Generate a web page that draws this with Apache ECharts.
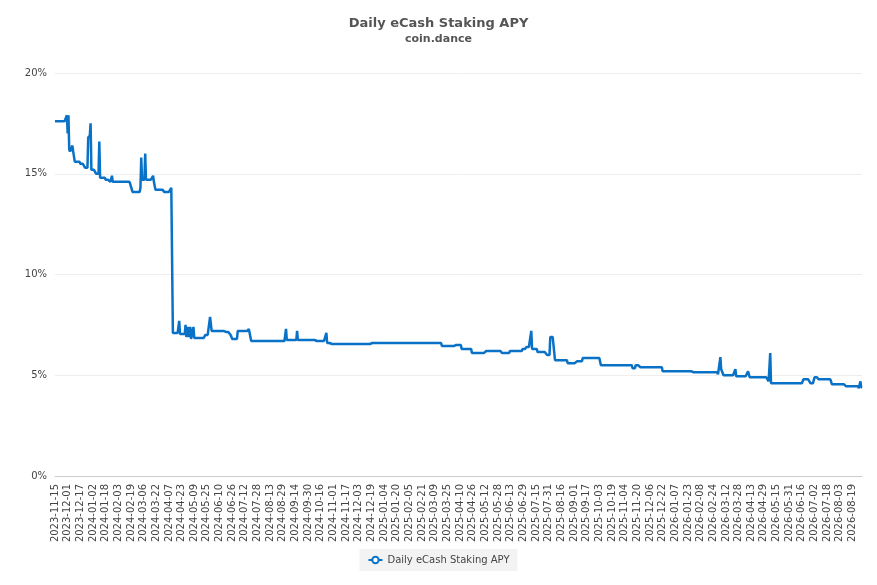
<!DOCTYPE html>
<html><head><meta charset="utf-8">
<script src="https://cdn.jsdelivr.net/npm/echarts@6/dist/echarts.min.js"></script>
<style>html,body{margin:0;padding:0;background:#fff}#c{width:877px;height:585px}</style>
</head><body><div id="c"></div>
<script>
const startDate = '2023-11-15';
const totalDays = 1021;
// change points: [day offset from start, APY %], value held until next point
const changePoints = [[0,17.6],[15,17.9],[16,17.0],[17,17.9],[18,16.2],[19,16.1],[22,16.4],[23,16.1],[25,15.6],[32,15.5],[38,15.3],[42,16.8],[44,16.9],[45,17.5],[46,15.2],[52,15.0],[56,16.6],[57,14.8],[64,14.7],[70,14.6],[72,14.9],[73,14.6],[95,14.5],[98,14.1],[108,14.3],[109,15.8],[110,14.7],[114,16.0],[115,14.7],[124,14.9],[125,14.6],[127,14.2],[138,14.1],[147,14.3],[149,7.1],[157,7.7],[158,7.05],[165,7.5],[166,6.9],[168,7.4],[169,6.9],[171,7.4],[172,6.8],[175,7.4],[176,6.85],[190,7.0],[196,7.9],[198,7.2],[215,7.15],[222,7.0],[224,6.8],[231,7.2],[245,7.3],[248,6.7],[270,6.7],[292,7.3],[293,6.75],[306,7.2],[307,6.75],[330,6.7],[343,7.1],[344,6.6],[349,6.55],[400,6.6],[450,6.6],[489,6.45],[505,6.5],[514,6.3],[527,6.1],[545,6.2],[565,6.1],[575,6.2],[591,6.3],[596,6.4],[602,7.2],[603,6.3],[610,6.15],[622,6.0],[626,6.9],[632,5.75],[648,5.6],[660,5.7],[667,5.85],[690,5.5],[730,5.35],[734,5.5],[740,5.4],[768,5.2],[806,5.15],[838,5.05],[841,5.9],[842,5.3],[845,5.0],[860,5.3],[861,4.95],[876,5.2],[878,4.9],[902,4.7],[904,6.1],[905,4.6],[946,4.8],[955,4.6],[960,4.9],[965,4.8],[982,4.55],[1000,4.45],[1016,4.35],[1018,4.7],[1019,4.4],[1020,4.4]];

const categories = [];
const values = [];
const t0 = Date.parse(startDate + 'T00:00:00Z');
let ci = 0;
for (let d = 0; d < totalDays; d++) {
  categories.push(new Date(t0 + d*86400000).toISOString().slice(0,10));
  while (ci + 1 < changePoints.length && changePoints[ci+1][0] <= d) ci++;
  values.push(changePoints[ci][1]);
}
const chart = echarts.init(document.getElementById('c'));
chart.setOption({
  animation:false,
  title:{text:'Daily eCash Staking APY',subtext:'coin.dance',left:'center',top:12,itemGap:4,
    textStyle:{fontSize:13,fontWeight:'bold',color:'#555',fontFamily:'DejaVu Sans'},
    subtextStyle:{fontSize:11,fontWeight:'bold',color:'#555',fontFamily:'DejaVu Sans'}},
  legend:{bottom:14,backgroundColor:'#f3f3f3',padding:[6,8],itemWidth:14,itemHeight:8,
    textStyle:{fontSize:10,color:'#444',fontFamily:'DejaVu Sans'},
    data:['Daily eCash Staking APY']},
  grid:{left:55,right:15,top:73,bottom:109},
  xAxis:{type:'category',data:categories,boundaryGap:false,
    axisLine:{lineStyle:{color:'#ccc'}},axisTick:{show:false},
    axisLabel:{rotate:90,interval:15,fontSize:10,color:'#444',fontFamily:'DejaVu Sans'}},
  yAxis:{type:'value',min:0,max:20,interval:5,axisLabel:{formatter:'{value}%',fontSize:10,color:'#444',fontFamily:'DejaVu Sans'},
    splitLine:{lineStyle:{color:'#eee'}}},
  series:[{name:'Daily eCash Staking APY',type:'line',data:values,showSymbol:false,
    lineStyle:{width:2.5,color:'#0a72c6'},itemStyle:{color:'#0a72c6'}}]
});
</script></body></html>
